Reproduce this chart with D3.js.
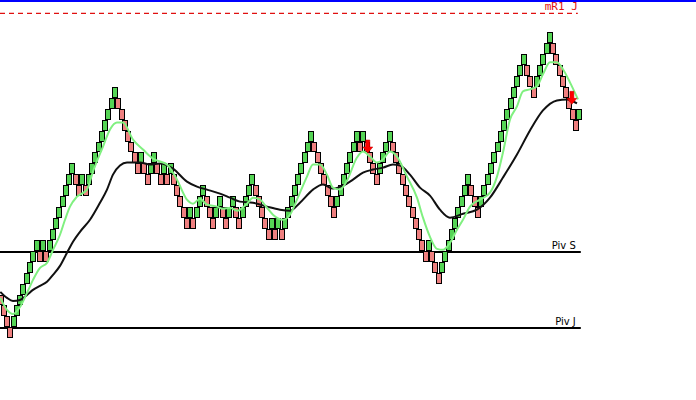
<!DOCTYPE html>
<html><head><meta charset="utf-8">
<script src="https://cdn.jsdelivr.net/npm/d3@7"></script>
<style>html,body{margin:0;padding:0;background:#fff;overflow:hidden}</style>
</head><body>
<svg id="chart" width="696" height="400"></svg>
<script>
// Renko bricks: top level of each brick (in brick units) and colour (G = up, R = down)
const brickTop = [
  -4,-5,-6,-7,-6,-5,-4,-3,-2,-1, 0, 1, 0, 1, 0, 1, 2, 3, 4, 5,
   6, 7, 8, 7, 6, 7, 6, 7, 8, 9,10,11,12,13,14,15,14,13,12,11,
  10, 9, 8, 9, 8, 7, 8, 9, 8, 7, 8, 7, 8, 7, 6, 5, 4, 3, 4, 3,
   4, 5, 6, 5, 4, 3, 4, 5, 4, 3, 4, 5, 4, 3, 4, 5, 6, 7, 6, 5,
   4, 3, 2, 3, 2, 3, 2, 3, 4, 5, 6, 7, 8, 9,10,11,10, 9, 8, 7,
   6, 5, 4, 5, 6, 7, 8, 9,10,11,10,11,10, 9, 8, 7, 8, 9,10,11,
  10, 9, 8, 7, 6, 5, 4, 3, 2, 1, 0, 1, 0,-1,-2,-1, 0, 1, 2, 3,
   4, 5, 6, 7, 6, 5, 4, 5, 6, 7, 8, 9,10,11,12,13,14,15,16,17,
  18,17,16,15,16,17,18,19,20,19,18,17,16,15,14,13,12,13
];
const brickColor =
  "RRRRGGGGGGGGRGRGGGGGGGGRRGRGGGGGGGGGRRRRRRRGRRGGRRGRGRRRRRGRGGGRRRGGRRGGRRGGGGRRRRRGRGRGGGGGGGGGRRRRRRRGGGGGGGRGRRRRGGGGRRRRRRRRRRRGRRRGGGGGGGGGRRRGGGGGGGGGGGGGGRRRGGGGGRRRRRRRRG";

// Moving averages: brick index and level
const slowIdx = [0,2.05,3.88,6.02,8.17,10,12.14,14.28,16.12,18.26,20.4,22.23,24.37,27.43,30.49,32.63,34.46,36.6,38.75,40.58,42.72,45.78,48.84,52.81,57.09,60.15,63.21,67.19,70.25,73.3,77.28,81.56,85.54,88.59,91.65,95.63,98.69,101.74,104.8,107.86,110.92,113.98,117.03,120.09,122.23,125.29,128.35,131.41,134.46,137.52,141.5,145.78,149.76,153.73,158.01,161.99,165.96,170.24,173.3,176.36];
const slowVal = [-3.76,-4.31,-4.59,-4.5,-4.04,-3.58,-3.21,-2.84,-2.2,-1.38,-0.18,0.83,1.74,2.84,4.4,5.6,6.97,7.8,8.07,8.07,8.07,7.89,7.98,7.52,6.33,5.87,5.6,5.23,4.86,4.5,4.4,4.04,3.76,3.67,4.4,5.6,6.06,5.69,5.96,6.51,7.16,7.43,7.61,7.89,7.8,6.97,5.78,5.05,3.76,3.03,3.39,3.76,4.86,6.7,8.81,11.01,12.84,13.76,13.85,13.49];
const fastIdx = [0,2.05,3.88,6.02,8.17,10,12.14,14.28,16.12,18.26,19.79,21.31,23.46,26.51,28.35,31.41,33.55,35.69,37.52,40.58,43.64,46.7,48.84,50.98,54.04,57.09,58.93,61.07,63.21,66.27,68.1,70.25,72.39,75.44,77.28,79.42,81.56,83.39,86.45,88.59,90.73,93.79,95.63,97.77,99.91,101.74,103.88,106.02,109.08,110.92,113.06,115.2,117.03,119.17,121.31,124.37,127.43,129.27,131.41,133.55,135.38,137.52,139.66,141.5,143.64,146.7,149.76,151.9,153.73,155.87,158.01,159.85,161.99,164.13,165.96,168.1,170.24,172.08,174.22,176.67];
const fastVal = [-4.31,-5.41,-5.78,-5.14,-3.85,-2.66,-1.56,-1.1,0.09,1.47,2.84,4.04,4.95,5.6,7.25,9.54,11.1,11.74,11.74,10.18,9.27,8.44,8.17,7.89,6.51,4.68,4.31,4.77,4.22,4.04,3.85,3.94,3.67,4.31,4.86,4.68,3.94,3.3,2.84,3.3,4.68,6.79,7.89,7.89,6.97,5.78,5.6,6.42,8.53,9.08,8.62,8.07,8.35,9.08,8.62,6.79,4.86,3.03,1.28,0.18,0.09,0.73,1.93,2.84,4.04,4.68,5.32,6.79,8.99,12.0,13.21,14.59,14.77,15.05,16.15,17.25,17.25,16.61,15.41,13.85];

// Pivot levels
const pivotNames = ["mR1 J", "Piv S", "Piv J"];
const pivotValues = [21.73, -0.11, -7.06];

// Sell signals: brick index and arrow tip level
const signalIdx = [112.4, 174.8];
const signalTip = [8.95, 13.4];

const svg = d3.select("#chart");
const n = brickTop.length;
const xs = d3.scaleLinear().domain([0, n - 1]).range([-2.45, 576.3]);
const ys = d3.scaleLinear().domain([0, 20]).range([250.8, 32.2]);
const xEnd = xs(n - 1) + 4.5;

// top blue border
svg.append("rect").attr("x", 0).attr("y", 0).attr("width", 696).attr("height", 2).attr("fill", "#0000ff");

// pivot lines
pivotNames.forEach((name, k) => {
  const y = ys(pivotValues[k]);
  const dashed = k === 0;
  svg.append("line")
    .attr("x1", 0).attr("x2", dashed ? xEnd - 3 : xEnd)
    .attr("y1", y).attr("y2", y)
    .attr("stroke", dashed ? "#e01010" : "#000")
    .attr("stroke-width", dashed ? 1.3 : 2)
    .attr("stroke-dasharray", dashed ? "5,4" : null);
  svg.append("text")
    .attr("x", dashed ? xEnd - 3 : xEnd - 5)
    .attr("y", y - 3)
    .attr("text-anchor", "end")
    .attr("font-family", dashed ? "'DejaVu Sans Mono', monospace" : "'DejaVu Sans', sans-serif")
    .attr("font-size", dashed ? 11 : 10)
    .attr("fill", dashed ? "#e01010" : "#000")
    .text(name);
});

// bricks
svg.append("g").selectAll("rect").data(brickTop).join("rect")
  .attr("x", (d, i) => Math.round(xs(i)) + 0.5)
  .attr("y", d => Math.round(ys(d)) + 0.5)
  .attr("width", 5)
  .attr("height", d => Math.round(ys(d - 1)) - Math.round(ys(d)) - 1)
  .attr("fill", (d, i) => brickColor[i] === "G" ? "#55d455" : "#ee7f7f")
  .attr("stroke", "#000").attr("stroke-width", 1);

// moving averages
const line = d3.line().x(d => xs(d[0]) + 2.75).y(d => ys(d[1])).curve(d3.curveMonotoneX);
svg.append("path").datum(slowIdx.map((v, i) => [v, slowVal[i]]))
  .attr("d", line).attr("fill", "none").attr("stroke", "#111").attr("stroke-width", 2);
svg.append("path").datum(fastIdx.map((v, i) => [v, fastVal[i]]))
  .attr("d", line).attr("fill", "none").attr("stroke", "#80f080").attr("stroke-width", 2);

// sell arrows
signalIdx.forEach((si, k) => {
  const cx = xs(si) + 2.75, tip = ys(signalTip[k]);
  const p = [[cx - 2, tip - 13], [cx + 2, tip - 13], [cx + 2, tip - 6], [cx + 5, tip - 6],
             [cx, tip], [cx - 5, tip - 6], [cx - 2, tip - 6]];
  svg.append("path").attr("d", "M" + p.join("L") + "Z").attr("fill", "#ff0000")
    .attr("stroke", "#c00000").attr("stroke-width", 0.5);
});
</script>
</body></html>
